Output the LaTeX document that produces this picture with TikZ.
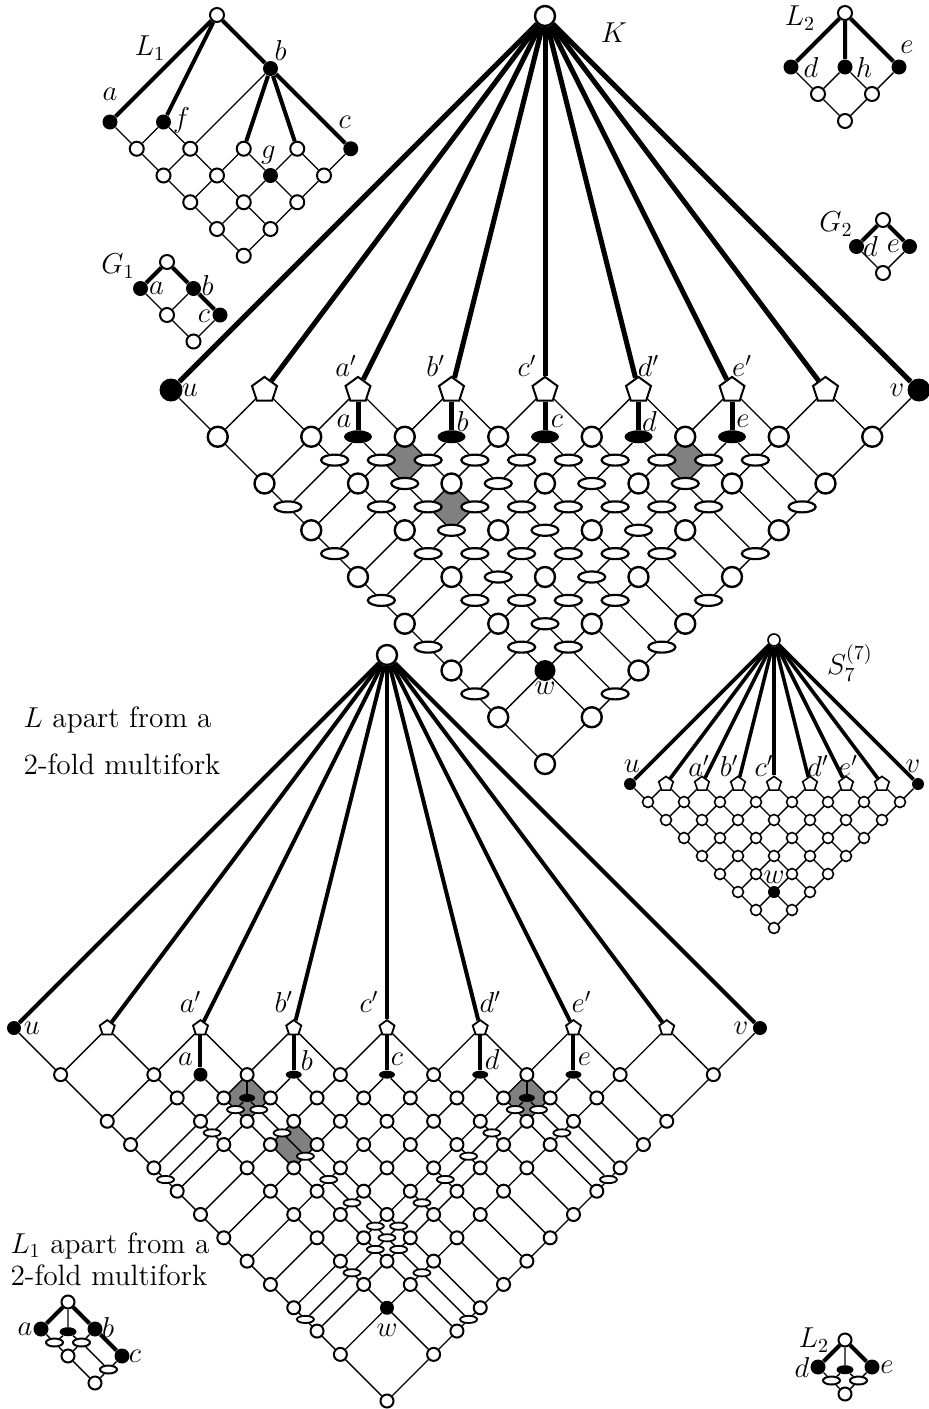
\documentclass[tikz,border=0pt]{standalone}
\usetikzlibrary{shapes.geometric,backgrounds,positioning}

\tikzset{
  edge/.style={line width=0.7pt},
  wnode/.style={draw,circle,fill=white,inner sep=0pt},
  bnode/.style={circle,fill=black,inner sep=0pt},
  wlens/.style={draw,ellipse,fill=white,inner sep=0pt},
  blens/.style={ellipse,fill=black,inner sep=0pt},
  pent/.style={draw,regular polygon,regular polygon sides=5,fill=white,inner sep=0pt},
  lab/.style={inner sep=0pt},
}

\begin{document}
\begin{tikzpicture}[x=0.5pt,y=-0.5pt,font=\fontsize{14.7}{20}\selectfont]
\useasboundingbox (0,0) rectangle (929,1409);

% the lattice K
\begin{scope}[shift={(171,390)},x={(5.84375pt,5.84375pt)},y={(5.84375pt,-5.84375pt)},
    fork/.style={line width=2.5pt},
    type0/.style={wnode,line width=1.2pt,minimum size=10pt},
    type1/.style={pent,line width=1pt,minimum size=13.1pt},
    type2/.style={bnode,minimum size=11.5pt},
    type3/.style={blens,minimum width=14pt,minimum height=6.5pt},
    type4/.style={wlens,line width=1.1pt,minimum width=13.5pt,minimum height=5.5pt},
    type5/.style={bnode,minimum size=10.5pt}]
  \foreach \p in {0,4,6,8,10,12,14,16,18,20,22,24,28,32}{
    \foreach \q in {0,4,8,10,12,14,16,18,20,22,24,26,28,32}{
      \pgfmathtruncatemacro\isel{and(ifthenelse(mod(\p,4)==0,\q>=\p,\q>=\p+4),ifthenelse(mod(\q,4)==0,\p<=\q,\p<=\q-4))}
      \ifnum\isel=1
        \pgfmathtruncatemacro\kind{ifthenelse(\p==\q,ifthenelse(\p==0||\p==32,2,1),ifthenelse(\q-\p==4&&mod(\p,4)==2,3,ifthenelse(\p==4&&\q==28,5,ifthenelse(mod(\p,4)==2||mod(\q,4)==2,4,0))))}
        \node[type\kind] (K\p-\q) at (\p,\q) {};
      \fi}}
  \node[type0] (Ktop) at (32,0) {};
  \begin{scope}[on background layer]
    \fill[gray] (K6-12.center) -- (K8-12.center) -- (K8-14.center) -- (K6-14.center) -- cycle;
    \fill[gray] (K6-16.center) -- (K8-16.center) -- (K8-18.center) -- (K6-18.center) -- cycle;
    \fill[gray] (K18-24.center) -- (K20-24.center) -- (K20-26.center) -- (K18-26.center) -- cycle;
    \foreach \p/\beg in {0/0,4/4,6/10,8/8,10/14,12/12,14/18,16/16,18/22,20/20,22/26,24/24,28/28}
      \draw[edge] (K\p-\beg) -- (K\p-32);
    \foreach \q/\fin in {4/4,8/8,10/6,12/12,14/10,16/16,18/14,20/20,22/18,24/24,26/22,28/28,32/32}
      \draw[edge] (K0-\q) -- (K\fin-\q);
  \end{scope}
  \foreach \p in {0,4,...,32}
    \draw[fork] (Ktop) -- (K\p-\p);
  \foreach \p/\n/\q in {6/8/10,10/12/14,14/16/18,18/20/22,22/24/26}
    \draw[fork] (K\n-\n) -- (K\p-\q);
  % labels
  \node[lab] (Ku) at ([xshift=9.5pt]K0-0) {$u$};
  \node[lab] (Kv) at ([xshift=-11pt]K32-32) {$v$};
  \node[lab] (Ka1) at ([shift={(-6pt,12pt)}]K8-8) {$a'$};
  \node[lab] (Kb1) at ([shift={(-8pt,12pt)}]K12-12) {$b'$};
  \node[lab] (Kc1) at ([shift={(-9pt,12pt)}]K16-16) {$c'$};
  \node[lab] (Kd1) at ([shift={(5pt,12pt)}]K20-20) {$d'$};
  \node[lab] (Ke1) at ([shift={(5pt,12pt)}]K24-24) {$e'$};
  \node[lab] (Ka) at ([shift={(-7pt,7.5pt)}]K6-10) {$a$};
  \node[lab] (Kb) at ([shift={(5.5pt,7.5pt)}]K10-14) {$b$};
  \node[lab] (Kc) at ([shift={(6pt,7.5pt)}]K14-18) {$c$};
  \node[lab] (Kd) at ([shift={(5.5pt,7.5pt)}]K18-22) {$d$};
  \node[lab] (Ke) at ([shift={(5.5pt,7.5pt)}]K22-26) {$e$};
  \node[lab] (Kw) at ([yshift=-9pt]K4-28) {$w$};
\end{scope}
\node[lab] (Kname) at (614,33) {$K$};

% the lattice L
\begin{scope}[shift={(14,1028)},x={(5.828pt,5.828pt)},y={(5.828pt,-5.828pt)},
    fork/.style={line width=2pt},
    type0/.style={wnode,line width=1pt,minimum size=6.5pt},
    type1/.style={pent,line width=0.9pt,minimum size=7.9pt},
    type2/.style={bnode,minimum size=7pt},
    type3/.style={blens,minimum width=8pt,minimum height=4pt},
    type4/.style={wlens,line width=0.9pt,minimum width=8.5pt,minimum height=3.6pt},
    type5/.style={bnode,minimum size=7pt}]
  \foreach \p in {0,4,6,7,8,10,12,14,16,18,19,20,22,24,28,32}{
    \foreach \q in {0,4,8,10,12,13,14,16,18,20,22,24,25,26,28,32}{
      \pgfmathtruncatemacro\isel{and(ifthenelse(\p==7,\q>=13,ifthenelse(\p==19,\q>=25,ifthenelse(mod(\p,4)==0,\q>=\p,\q>=\p+4))),ifthenelse(\q==13,\p<=7,ifthenelse(\q==25,\p<=19,ifthenelse(mod(\q,4)==0,\p<=\q,\p<=\q-4))))}
      \ifnum\isel=1
        \pgfmathtruncatemacro\kind{ifthenelse(\p==\q,ifthenelse(\p==0||\p==32,2,1),ifthenelse((\p==7&&\q==13)||(\p==19&&\q==25)||(\q-\p==4&&\p>6&&mod(\p,4)==2),3,ifthenelse((\p==6&&\q==10)||(\p==4&&\q==28),5,ifthenelse(\p==7||\p==19||\q==13||\q==25,4,0))))}
        \node[type\kind] (L\p-\q) at (\p,\q) {};
      \fi}}
  \node[wnode,line width=1.2pt,minimum size=10pt] (Ltop) at (32,0) {};
  \begin{scope}[on background layer]
    \fill[gray] (L6-12.center) -- (L8-12.center) -- (L8-14.center) -- (L6-14.center) -- cycle;
    \fill[gray] (L6-16.center) -- (L8-16.center) -- (L8-18.center) -- (L6-18.center) -- cycle;
    \fill[gray] (L18-24.center) -- (L20-24.center) -- (L20-26.center) -- (L18-26.center) -- cycle;
    \foreach \p/\beg in {0/0,4/4,6/10,7/13,8/8,10/14,12/12,14/18,16/16,18/22,19/25,20/20,22/26,24/24,28/28}
      \draw[edge] (L\p-\beg) -- (L\p-32);
    \foreach \q/\fin in {4/4,8/8,10/6,12/12,13/7,14/10,16/16,18/14,20/20,22/18,24/24,25/19,26/22,28/28,32/32}
      \draw[edge] (L0-\q) -- (L\fin-\q);
  \end{scope}
  \draw[edge] (L8-12) -- (L7-13);
  \draw[edge] (L20-24) -- (L19-25);
  \foreach \p in {0,4,...,32}
    \draw[fork] (Ltop) -- (L\p-\p);
  \foreach \p/\n/\q in {6/8/10,10/12/14,14/16/18,18/20/22,22/24/26}
    \draw[fork] (L\n-\n) -- (L\p-\q);
  % labels
  \node[lab] (Lu) at ([xshift=9pt]L0-0) {$u$};
  \node[lab] (Lv) at ([xshift=-9.5pt]L32-32) {$v$};
  \node[lab] (La1) at ([shift={(-5pt,13pt)}]L8-8) {$a'$};
  \node[lab] (Lb1) at ([shift={(-5pt,13pt)}]L12-12) {$b'$};
  \node[lab] (Lc1) at ([shift={(-9pt,13pt)}]L16-16) {$c'$};
  \node[lab] (Ld1) at ([shift={(5pt,13pt)}]L20-20) {$d'$};
  \node[lab] (Le1) at ([shift={(4pt,13pt)}]L24-24) {$e'$};
  \node[lab] (La) at ([shift={(-7.5pt,7.5pt)}]L6-10) {$a$};
  \node[lab] (Lb) at ([shift={(6.5pt,7pt)}]L10-14) {$b$};
  \node[lab] (Lc) at ([shift={(5pt,7.5pt)}]L14-18) {$c$};
  \node[lab] (Ld) at ([shift={(6pt,7.5pt)}]L18-22) {$d$};
  \node[lab] (Le) at ([shift={(5.5pt,7.5pt)}]L22-26) {$e$};
  \node[lab] (Lw) at ([yshift=-11.5pt]L4-28) {$w$};
\end{scope}

% the lattice S_7^(7)
\begin{scope}[shift={(630,784)},x={(9pt,9pt)},y={(9pt,-9pt)},
    fork/.style={line width=1.8pt},
    type0/.style={wnode,line width=0.8pt,minimum size=5.5pt},
    type1/.style={pent,line width=0.8pt,minimum size=7.6pt},
    type2/.style={bnode,minimum size=6pt},
    type5/.style={bnode,minimum size=6pt}]
  \foreach \p in {0,...,8}{
    \foreach \q in {0,...,8}{
      \ifnum\p>\q\else
        \pgfmathtruncatemacro\kind{ifthenelse(\p==\q,ifthenelse(\p==0||\p==8,2,1),ifthenelse(\p==1&&\q==7,5,0))}
        \node[type\kind] (S\p-\q) at (\p,\q) {};
      \fi}}
  \node[wnode,line width=0.8pt,minimum size=6pt] (Stop) at (8,0) {};
  \begin{scope}[on background layer]
    \foreach \p in {0,...,7}
      \draw[edge] (S\p-\p) -- (S\p-8);
    \foreach \q in {1,...,8}
      \draw[edge] (S0-\q) -- (S\q-\q);
  \end{scope}
  \foreach \p in {0,...,8}
    \draw[fork] (Stop) -- (S\p-\p);
  \node[lab] (Su) at ([shift={(1pt,9pt)}]S0-0) {$u$};
  \node[lab] (Sa1) at ([shift={(-1.5pt,9pt)}]S2-2) {$a'$};
  \node[lab] (Sb1) at ([shift={(-4.5pt,9pt)}]S3-3) {$b'$};
  \node[lab] (Sc1) at ([shift={(-5pt,9pt)}]S4-4) {$c'$};
  \node[lab] (Sd1) at ([shift={(4pt,9pt)}]S5-5) {$d'$};
  \node[lab] (Se1) at ([shift={(1pt,9pt)}]S6-6) {$e'$};
  \node[lab] (Sv) at ([shift={(-2.5pt,9pt)}]S8-8) {$v$};
  \node[lab] (Sw) at ([yshift=7.5pt]S1-7) {$w$};
\end{scope}
\node[lab] (Sname) at (850,663) {$S_7^{(7)}$};

% L_1
\begin{scope}[shift={(217,15)},x=13.375pt,y=-13.375pt,
    thin/.style={line width=0.7pt},thick/.style={line width=2pt},
    w/.style={wnode,line width=1pt,minimum size=7pt},
    b/.style={bnode,minimum size=7.5pt}]
  \node[w] (Ptop) at (0,0) {};
  \node[b] (Pb) at (2,2) {};
  \node[b] (Pa) at (-4,4) {};
  \node[b] (Pf) at (-2,4) {};
  \node[b] (Pc) at (5,5) {};
  \node[w] (Pn1) at (-3,5) {};
  \node[w] (Pn2) at (-1,5) {};
  \node[w] (Pn3) at (1,5) {};
  \node[w] (Pn4) at (3,5) {};
  \node[w] (Pm1) at (-2,6) {};
  \node[w] (Pm2) at (0,6) {};
  \node[b] (Pg) at (2,6) {};
  \node[w] (Pm3) at (4,6) {};
  \node[w] (Po1) at (-1,7) {};
  \node[w] (Po2) at (1,7) {};
  \node[w] (Po3) at (3,7) {};
  \node[w] (Pp1) at (0,8) {};
  \node[w] (Pp2) at (2,8) {};
  \node[w] (Pq) at (1,9) {};
  \draw[thick] (Ptop) -- (Pa) (Ptop) -- (Pf) (Ptop) -- (Pb)
    (Pb) -- (Pn3) (Pb) -- (Pn4) (Pb) -- (Pc);
  \draw[thin] (Pb) -- (Pn2) (Pa) -- (Pn1) (Pf) -- (Pn1) (Pf) -- (Pn2)
    (Pn1) -- (Pm1) (Pn2) -- (Pm1) (Pn2) -- (Pm2) (Pn3) -- (Pm2) (Pn3) -- (Pg)
    (Pn4) -- (Pg) (Pn4) -- (Pm3) (Pc) -- (Pm3)
    (Pm1) -- (Po1) (Pm2) -- (Po1) (Pm2) -- (Po2) (Pg) -- (Po2) (Pg) -- (Po3) (Pm3) -- (Po3)
    (Po1) -- (Pp1) (Po2) -- (Pp1) (Po2) -- (Pp2) (Po3) -- (Pp2) (Pp1) -- (Pq) (Pp2) -- (Pq);
  \node[lab] (Pla) at ([yshift=14pt]Pa) {$a$};
  \node[lab] (Plf) at ([shift={(9pt,1pt)}]Pf) {$f$};
  \node[lab] (Plb) at ([shift={(5pt,9pt)}]Pb) {$b$};
  \node[lab] (Plc) at ([shift={(-3pt,13pt)}]Pc) {$c$};
  \node[lab] (Plg) at ([shift={(-1pt,10pt)}]Pg) {$g$};
\end{scope}
\node[lab] (Pname) at (150,48) {$L_1$};

% G_1
\begin{scope}[shift={(167,262)},x=13.25pt,y=-13.25pt,
    thin/.style={line width=0.7pt},thick/.style={line width=2pt},
    w/.style={wnode,line width=1pt,minimum size=7pt},
    b/.style={bnode,minimum size=7.5pt}]
  \node[w] (Gtop) at (0,0) {};
  \node[b] (Ga) at (-1,1) {};
  \node[b] (Gb) at (1,1) {};
  \node[w] (Gm) at (0,2) {};
  \node[b] (Gc) at (2,2) {};
  \node[w] (Gbot) at (1,3) {};
  \draw[thick] (Gtop) -- (Ga) (Gtop) -- (Gb) (Gb) -- (Gc);
  \draw[thin] (Ga) -- (Gm) (Gb) -- (Gm) (Gm) -- (Gbot) (Gc) -- (Gbot);
  \node[lab] (Gla) at ([xshift=8pt]Ga) {$a$};
  \node[lab] (Glb) at ([shift={(7pt,1.5pt)}]Gb) {$b$};
  \node[lab] (Glc) at ([shift={(-8pt,-0.5pt)}]Gc) {$c$};
\end{scope}
\node[lab] (Gname) at (118,266) {$G_1$};

% L_2
\begin{scope}[shift={(845,13)},x=13.5pt,y=-13.5pt,
    thin/.style={line width=0.7pt},thick/.style={line width=2pt},
    w/.style={wnode,line width=1pt,minimum size=7pt},
    b/.style={bnode,minimum size=7.5pt}]
  \node[w] (Qtop) at (0,0) {};
  \node[b] (Qd) at (-2,2) {};
  \node[b] (Qh) at (0,2) {};
  \node[b] (Qe) at (2,2) {};
  \node[w] (Qx1) at (-1,3) {};
  \node[w] (Qx2) at (1,3) {};
  \node[w] (Qbot) at (0,4) {};
  \draw[thick] (Qtop) -- (Qd) (Qtop) -- (Qh) (Qtop) -- (Qe);
  \draw[thin] (Qd) -- (Qx1) (Qh) -- (Qx1) (Qh) -- (Qx2) (Qe) -- (Qx2) (Qx1) -- (Qbot) (Qx2) -- (Qbot);
  \node[lab] (Qld) at ([xshift=10pt]Qd) {$d$};
  \node[lab] (Qlh) at ([xshift=9.5pt]Qh) {$h$};
  \node[lab] (Qle) at ([shift={(4pt,10pt)}]Qe) {$e$};
\end{scope}
\node[lab] (Qname) at (800,18) {$L_2$};

% G_2
\begin{scope}[shift={(883,220)},x=13.25pt,y=-13.25pt,
    thin/.style={line width=0.7pt},thick/.style={line width=2pt},
    w/.style={wnode,line width=1pt,minimum size=7pt},
    b/.style={bnode,minimum size=7.5pt}]
  \node[w] (Htop) at (0,0) {};
  \node[b] (Hd) at (-1,1) {};
  \node[b] (He) at (1,1) {};
  \node[w] (Hbot) at (0,2) {};
  \draw[thick] (Htop) -- (Hd) (Htop) -- (He);
  \draw[thin] (Hd) -- (Hbot) (He) -- (Hbot);
  \node[lab] (Hld) at ([xshift=7pt]Hd) {$d$};
  \node[lab] (Hle) at ([xshift=-8pt]He) {$e$};
\end{scope}
\node[lab] (Hname) at (836,224) {$G_2$};

% L_1 apart from a 2-fold multifork
\begin{scope}[shift={(68,1302)},x=13.5pt,y=-13.5pt,
    thin/.style={line width=0.7pt},thick/.style={line width=2pt},
    w/.style={wnode,line width=1pt,minimum size=6.5pt},
    b/.style={bnode,minimum size=7.5pt},
    we/.style={wlens,line width=1pt,minimum width=8.5pt,minimum height=4pt},
    be/.style={blens,minimum width=8.5pt,minimum height=4.5pt}]
  \node[w] (Mtop) at (0,0) {};
  \node[b] (Ma) at (-1,1) {};
  \node[be] (Mx) at (0,1.1) {};
  \node[b] (Mb) at (1,1) {};
  \node[we] (Me1) at (-0.5,1.5) {};
  \node[we] (Me2) at (0.5,1.5) {};
  \node[w] (Mm) at (0,2) {};
  \node[b] (Mc) at (2,2) {};
  \node[we] (Me3) at (1.5,2.5) {};
  \node[w] (Mbot) at (1,3) {};
  \draw[thick] (Mtop) -- (Ma) (Mtop) -- (Mb) (Mb) -- (Mc);
  \draw[thin] (Mtop) -- (Mx) (Mx) -- (Me1) (Mx) -- (Me2) (Ma) -- (Me1) (Me1) -- (Mm)
    (Mb) -- (Me2) (Me2) -- (Mm) (Me2) -- (Me3) (Mc) -- (Me3) (Me3) -- (Mbot) (Mm) -- (Mbot);
  \node[lab] (Mla) at ([xshift=-8pt]Ma) {$a$};
  \node[lab] (Mlb) at ([shift={(6.5pt,1pt)}]Mb) {$b$};
  \node[lab] (Mlc) at ([xshift=6.5pt]Mc) {$c$};
\end{scope}

% L_2 apart from a 2-fold multifork
\begin{scope}[shift={(845,1340)},x=13.5pt,y=-13.5pt,
    thin/.style={line width=0.7pt},thick/.style={line width=2pt},
    w/.style={wnode,line width=1pt,minimum size=6.5pt},
    b/.style={bnode,minimum size=7.5pt},
    we/.style={wlens,line width=1pt,minimum width=8.5pt,minimum height=4pt},
    be/.style={blens,minimum width=8.5pt,minimum height=4.5pt}]
  \node[w] (Ntop) at (0,0) {};
  \node[b] (Nd) at (-1,1) {};
  \node[be] (Nx) at (0,1.1) {};
  \node[b] (Ne) at (1,1) {};
  \node[we] (Ne1) at (-0.5,1.5) {};
  \node[we] (Ne2) at (0.5,1.5) {};
  \node[w] (Nbot) at (0,2) {};
  \draw[thick] (Ntop) -- (Nd) (Ntop) -- (Ne);
  \draw[thin] (Ntop) -- (Nx) (Nx) -- (Ne1) (Nx) -- (Ne2) (Nd) -- (Ne1) (Ne1) -- (Nbot)
    (Ne) -- (Ne2) (Ne2) -- (Nbot);
  \node[lab] (Nld) at ([xshift=-8pt]Nd) {$d$};
  \node[lab] (Nle) at ([xshift=7.5pt]Ne) {$e$};
\end{scope}
\node[lab] (Nname) at (814,1340) {$L_2$};

% captions
\node[align=left,font=\fontsize{14.7}{23.5}\selectfont] (capL) at (122,741)
  {$L$ apart from a\\2-fold multifork};
\node[align=left,font=\fontsize{14.7}{16}\selectfont] (capM) at (110,1259)
  {$L_1$ apart from a\\2-fold multifork};
\end{tikzpicture}
\end{document}
